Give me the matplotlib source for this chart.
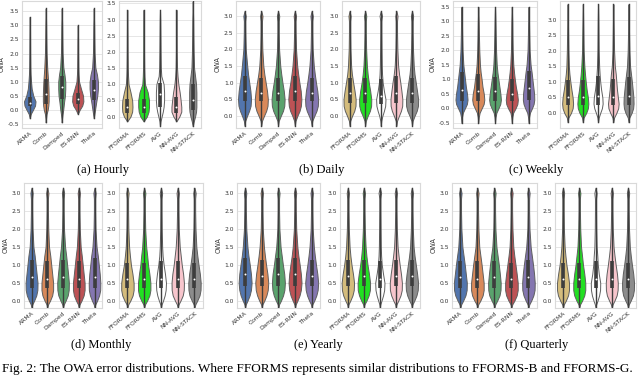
import numpy as np
import matplotlib.pyplot as plt

plt.rcParams['font.family'] = ['DejaVu Sans']

# method names and colours
LEFT_NAMES = ['ARMA', 'Comb', 'Damped', 'ES-RNN', 'Theta']
RIGHT_NAMES = ['FFORMA', 'FFORMS', 'AVG', 'NN-AVG', 'NN-STACK']
LEFT_COLORS = ['#5275ad', '#d8895a', '#5aa36d', '#bd5255', '#8476b0']
RIGHT_COLORS = ['#d4bc7c', '#22e022', '#ffffff', '#f7c5cc', '#8c8c8c']

# violin outlines: half-width (in category units) read at each OWA level of the grid
GRID_A = [-0.45, -0.3, -0.15, 0.0, 0.15, 0.3, 0.5, 0.75, 1.0, 1.25, 1.5, 2.0, 2.5, 3.0, 3.3, 3.6]
GRID_B = [-0.3, -0.15, 0.0, 0.15, 0.3, 0.5, 0.75, 1.0, 1.25, 1.5, 2.0, 2.5, 2.85, 2.95, 3.0, 3.05, 3.15]
GRID_C = [-0.5, -0.3, -0.15, 0.0, 0.15, 0.3, 0.5, 0.75, 1.0, 1.25, 1.5, 2.0, 2.5, 3.0, 3.3, 3.5]
GRID_D = [-0.2, -0.1, 0.0, 0.15, 0.3, 0.5, 0.75, 1.0, 1.25, 1.5, 2.0, 2.5, 2.85, 2.95, 3.0, 3.05, 3.15]

# Hourly
hourly_left = [
    [0, 0, 0.06, 0.2, 0.33, 0.36, 0.22, 0.12, 0.08, 0.05, 0.035, 0.025, 0.02, 0.015, 0, 0],
    [0, 0.02, 0.05, 0.12, 0.16, 0.18, 0.18, 0.17, 0.15, 0.12, 0.09, 0.05, 0.035, 0.025, 0.015, 0],
    [0, 0.02, 0.05, 0.09, 0.12, 0.15, 0.2, 0.22, 0.22, 0.17, 0.1, 0.05, 0.035, 0.025, 0.012, 0],
    [0, 0, 0, 0.12, 0.28, 0.35, 0.33, 0.2, 0.08, 0.05, 0.035, 0.025, 0.02, 0, 0, 0],
    [0, 0, 0.04, 0.08, 0.12, 0.16, 0.22, 0.26, 0.26, 0.2, 0.1, 0.05, 0.035, 0.025, 0.012, 0],
]
hourly_left_box = [(0.15, 0.25, 0.45), (0.2, 0.55, 1.1), (0.4, 0.8, 1.2), (0.2, 0.38, 0.6), (0.35, 0.7, 1.05)]
hourly_right = [
    [0, 0, 0, 0.2, 0.3, 0.32, 0.3, 0.2, 0.08, 0.05, 0.035, 0.025, 0.02, 0.01, 0, 0],
    [0, 0, 0, 0.2, 0.3, 0.33, 0.33, 0.25, 0.08, 0.05, 0.035, 0.025, 0.02, 0.01, 0, 0],
    [0, 0, 0.03, 0.1, 0.17, 0.22, 0.25, 0.25, 0.22, 0.08, 0.05, 0.035, 0.025, 0.015, 0, 0],
    [0, 0, 0, 0.18, 0.3, 0.3, 0.26, 0.2, 0.12, 0.07, 0.04, 0.025, 0.02, 0.01, 0, 0],
    [0, 0, 0.06, 0.14, 0.2, 0.22, 0.22, 0.22, 0.2, 0.14, 0.08, 0.05, 0.035, 0.025, 0.01, 0],
]
hourly_right_box = [(0.1, 0.3, 0.55), (0.12, 0.3, 0.55), (0.3, 0.7, 1.05), (0.12, 0.3, 0.6), (0.2, 0.5, 1.0)]

# Daily
daily_left = [
    [0, 0.04, 0.15, 0.27, 0.36, 0.39, 0.35, 0.28, 0.21, 0.16, 0.07, 0.045, 0.04, 0.06, 0.07, 0.05, 0],
    [0, 0.04, 0.16, 0.29, 0.37, 0.39, 0.34, 0.26, 0.18, 0.12, 0.06, 0.04, 0.04, 0.06, 0.07, 0.05, 0],
    [0, 0.04, 0.16, 0.29, 0.37, 0.39, 0.34, 0.26, 0.19, 0.13, 0.06, 0.04, 0.04, 0.06, 0.07, 0.05, 0],
    [0, 0.04, 0.15, 0.28, 0.36, 0.39, 0.35, 0.27, 0.2, 0.14, 0.07, 0.045, 0.04, 0.06, 0.07, 0.05, 0],
    [0, 0.04, 0.16, 0.29, 0.37, 0.39, 0.34, 0.26, 0.19, 0.13, 0.06, 0.04, 0.04, 0.06, 0.07, 0.05, 0],
]
daily_left_box = [(0.45, 0.75, 1.2), (0.45, 0.7, 1.15), (0.45, 0.7, 1.15), (0.45, 0.75, 1.2), (0.45, 0.7, 1.15)]
daily_right = [
    [0, 0.04, 0.16, 0.3, 0.38, 0.39, 0.32, 0.23, 0.15, 0.1, 0.055, 0.04, 0.04, 0.06, 0.07, 0.05, 0],
    [0, 0.04, 0.16, 0.3, 0.38, 0.39, 0.32, 0.23, 0.16, 0.11, 0.06, 0.04, 0.04, 0.06, 0.07, 0.05, 0],
    [0, 0.03, 0.1, 0.2, 0.28, 0.3, 0.2, 0.12, 0.08, 0.06, 0.045, 0.035, 0.035, 0.06, 0.08, 0.06, 0],
    [0, 0.04, 0.16, 0.29, 0.37, 0.38, 0.32, 0.25, 0.17, 0.11, 0.06, 0.04, 0.04, 0.06, 0.07, 0.05, 0],
    [0, 0.04, 0.16, 0.3, 0.38, 0.39, 0.32, 0.24, 0.16, 0.11, 0.06, 0.04, 0.04, 0.06, 0.07, 0.05, 0],
]
daily_right_box = [(0.4, 0.7, 1.15), (0.4, 0.7, 1.15), (0.35, 0.6, 1.1), (0.4, 0.7, 1.2), (0.4, 0.7, 1.15)]

# Weekly
weekly_left = [
    [0, 0.03, 0.08, 0.2, 0.32, 0.36, 0.33, 0.26, 0.21, 0.16, 0.11, 0.06, 0.04, 0.025, 0.012, 0],
    [0, 0.03, 0.08, 0.2, 0.32, 0.36, 0.33, 0.25, 0.2, 0.14, 0.1, 0.06, 0.04, 0.025, 0.012, 0],
    [0, 0.03, 0.08, 0.2, 0.31, 0.35, 0.32, 0.26, 0.2, 0.14, 0.1, 0.06, 0.04, 0.025, 0.012, 0],
    [0, 0.03, 0.08, 0.22, 0.33, 0.36, 0.32, 0.24, 0.18, 0.13, 0.09, 0.05, 0.035, 0.025, 0.012, 0],
    [0, 0.03, 0.08, 0.2, 0.3, 0.34, 0.33, 0.28, 0.23, 0.18, 0.12, 0.06, 0.04, 0.025, 0.012, 0],
]
weekly_left_box = [(0.25, 0.65, 1.25), (0.25, 0.6, 1.2), (0.25, 0.6, 1.1), (0.25, 0.5, 1.0), (0.3, 0.7, 1.3)]
weekly_right = [
    [0, 0, 0.05, 0.22, 0.33, 0.36, 0.33, 0.25, 0.18, 0.12, 0.08, 0.05, 0.035, 0.02, 0.01, 0],
    [0, 0, 0.05, 0.22, 0.33, 0.36, 0.33, 0.25, 0.19, 0.14, 0.1, 0.05, 0.035, 0.02, 0.01, 0],
    [0, 0, 0.04, 0.14, 0.25, 0.3, 0.28, 0.2, 0.14, 0.1, 0.07, 0.04, 0.03, 0.02, 0.01, 0],
    [0, 0, 0.05, 0.2, 0.32, 0.35, 0.3, 0.24, 0.2, 0.16, 0.1, 0.05, 0.035, 0.02, 0.01, 0],
    [0, 0, 0.05, 0.2, 0.3, 0.33, 0.32, 0.27, 0.22, 0.16, 0.1, 0.055, 0.035, 0.02, 0.01, 0],
]
weekly_right_box = [(0.25, 0.5, 1.05), (0.25, 0.5, 1.05), (0.25, 0.55, 1.2), (0.25, 0.5, 1.1), (0.25, 0.55, 1.15)]

# Monthly
monthly_left = [
    [0, 0.05, 0.16, 0.3, 0.37, 0.38, 0.32, 0.26, 0.2, 0.12, 0.06, 0.04, 0.04, 0.06, 0.07, 0.05, 0],
    [0, 0.05, 0.17, 0.31, 0.37, 0.37, 0.31, 0.25, 0.19, 0.11, 0.06, 0.04, 0.04, 0.06, 0.07, 0.05, 0],
    [0, 0.05, 0.16, 0.3, 0.36, 0.37, 0.32, 0.26, 0.2, 0.13, 0.06, 0.04, 0.04, 0.06, 0.07, 0.05, 0],
    [0, 0.05, 0.17, 0.31, 0.37, 0.37, 0.31, 0.25, 0.19, 0.12, 0.06, 0.04, 0.04, 0.06, 0.07, 0.05, 0],
    [0, 0.05, 0.16, 0.29, 0.36, 0.37, 0.33, 0.27, 0.21, 0.13, 0.06, 0.04, 0.04, 0.06, 0.07, 0.05, 0],
]
monthly_left_box = [(0.35, 0.65, 1.15), (0.35, 0.6, 1.1), (0.35, 0.65, 1.15), (0.35, 0.6, 1.1), (0.35, 0.65, 1.2)]
monthly_right = [
    [0, 0.05, 0.17, 0.31, 0.37, 0.37, 0.3, 0.21, 0.15, 0.1, 0.055, 0.04, 0.04, 0.06, 0.07, 0.05, 0],
    [0, 0.05, 0.17, 0.31, 0.37, 0.37, 0.31, 0.23, 0.18, 0.12, 0.06, 0.04, 0.04, 0.06, 0.07, 0.05, 0],
    [0, 0.04, 0.12, 0.22, 0.28, 0.3, 0.24, 0.16, 0.1, 0.07, 0.045, 0.035, 0.035, 0.06, 0.07, 0.05, 0],
    [0, 0.05, 0.16, 0.3, 0.36, 0.37, 0.32, 0.24, 0.18, 0.12, 0.06, 0.04, 0.04, 0.06, 0.07, 0.05, 0],
    [0, 0.05, 0.16, 0.3, 0.36, 0.37, 0.32, 0.24, 0.17, 0.11, 0.06, 0.04, 0.04, 0.06, 0.07, 0.05, 0],
]
monthly_right_box = [(0.35, 0.6, 1.05), (0.35, 0.6, 1.05), (0.35, 0.6, 1.1), (0.35, 0.6, 1.1), (0.35, 0.6, 1.05)]

# Yearly
yearly_left = [
    [0, 0.04, 0.14, 0.27, 0.35, 0.39, 0.35, 0.28, 0.2, 0.14, 0.07, 0.045, 0.04, 0.06, 0.07, 0.05, 0],
    [0, 0.04, 0.15, 0.28, 0.36, 0.39, 0.34, 0.26, 0.19, 0.13, 0.06, 0.04, 0.04, 0.06, 0.07, 0.05, 0],
    [0, 0.04, 0.15, 0.28, 0.36, 0.39, 0.35, 0.27, 0.2, 0.13, 0.06, 0.04, 0.04, 0.06, 0.07, 0.05, 0],
    [0, 0.04, 0.14, 0.27, 0.35, 0.39, 0.35, 0.28, 0.2, 0.14, 0.07, 0.045, 0.04, 0.06, 0.07, 0.05, 0],
    [0, 0.04, 0.15, 0.28, 0.36, 0.39, 0.34, 0.26, 0.19, 0.13, 0.06, 0.04, 0.04, 0.06, 0.07, 0.05, 0],
]
yearly_left_box = [(0.4, 0.75, 1.2), (0.4, 0.7, 1.15), (0.4, 0.75, 1.2), (0.4, 0.75, 1.2), (0.4, 0.7, 1.15)]
yearly_right = [
    [0, 0.04, 0.15, 0.29, 0.37, 0.39, 0.32, 0.23, 0.16, 0.11, 0.06, 0.04, 0.04, 0.06, 0.07, 0.05, 0],
    [0, 0.04, 0.16, 0.3, 0.38, 0.39, 0.32, 0.23, 0.16, 0.11, 0.06, 0.04, 0.04, 0.06, 0.07, 0.05, 0],
    [0, 0.03, 0.1, 0.2, 0.27, 0.29, 0.2, 0.12, 0.08, 0.06, 0.045, 0.035, 0.035, 0.06, 0.08, 0.06, 0],
    [0, 0.04, 0.15, 0.29, 0.37, 0.38, 0.32, 0.24, 0.17, 0.11, 0.06, 0.04, 0.04, 0.06, 0.07, 0.05, 0],
    [0, 0.04, 0.15, 0.29, 0.37, 0.39, 0.33, 0.25, 0.17, 0.11, 0.06, 0.04, 0.04, 0.06, 0.07, 0.05, 0],
]
yearly_right_box = [(0.4, 0.7, 1.15), (0.4, 0.7, 1.15), (0.35, 0.6, 1.1), (0.4, 0.7, 1.15), (0.4, 0.7, 1.15)]

# Quarterly
quarterly_left = [
    [0, 0.05, 0.16, 0.3, 0.37, 0.38, 0.32, 0.26, 0.19, 0.12, 0.06, 0.04, 0.04, 0.06, 0.07, 0.05, 0],
    [0, 0.05, 0.17, 0.31, 0.37, 0.37, 0.31, 0.25, 0.18, 0.11, 0.06, 0.04, 0.04, 0.06, 0.07, 0.05, 0],
    [0, 0.05, 0.16, 0.3, 0.36, 0.37, 0.32, 0.26, 0.19, 0.12, 0.06, 0.04, 0.04, 0.06, 0.07, 0.05, 0],
    [0, 0.05, 0.17, 0.31, 0.37, 0.37, 0.31, 0.24, 0.17, 0.11, 0.06, 0.04, 0.04, 0.06, 0.07, 0.05, 0],
    [0, 0.05, 0.16, 0.29, 0.36, 0.37, 0.33, 0.27, 0.2, 0.13, 0.06, 0.04, 0.04, 0.06, 0.07, 0.05, 0],
]
quarterly_left_box = [(0.35, 0.65, 1.1), (0.35, 0.6, 1.1), (0.35, 0.65, 1.1), (0.35, 0.6, 1.05), (0.35, 0.65, 1.15)]
quarterly_right = [
    [0, 0.05, 0.17, 0.31, 0.37, 0.37, 0.3, 0.21, 0.15, 0.1, 0.055, 0.04, 0.04, 0.06, 0.07, 0.05, 0],
    [0, 0.05, 0.17, 0.31, 0.37, 0.37, 0.31, 0.23, 0.17, 0.11, 0.06, 0.04, 0.04, 0.06, 0.07, 0.05, 0],
    [0, 0.04, 0.12, 0.22, 0.28, 0.29, 0.2, 0.14, 0.11, 0.07, 0.045, 0.035, 0.035, 0.06, 0.07, 0.05, 0],
    [0, 0.05, 0.16, 0.3, 0.36, 0.37, 0.32, 0.24, 0.17, 0.11, 0.06, 0.04, 0.04, 0.06, 0.07, 0.05, 0],
    [0, 0.05, 0.16, 0.3, 0.36, 0.37, 0.32, 0.24, 0.17, 0.11, 0.06, 0.04, 0.04, 0.06, 0.07, 0.05, 0],
]
quarterly_right_box = [(0.35, 0.6, 1.05), (0.35, 0.6, 1.05), (0.35, 0.6, 1.1), (0.35, 0.6, 1.1), (0.35, 0.6, 1.05)]

CAPTIONS = ['(a) Hourly', '(b) Daily', '(c) Weekly', '(d) Monthly', '(e) Yearly', '(f) Quarterly']
FIG_CAPTION = ('Fig. 2: The OWA error distributions. Where FFORMS represents similar '
               'distributions to FFORMS-B and FFORMS-G.')


def violins(ax, grid, widths, boxes, colors, names, ylim, yticks, ylabel=None):
    g = np.array(grid)
    for i, (w, b, c) in enumerate(zip(widths, boxes, colors)):
        w = np.array(w, dtype=float)
        nz = np.nonzero(w)[0]
        lo, hi = max(nz[0] - 1, 0), min(nz[-1] + 1, len(g) - 1)
        ys, ws = g[lo:hi + 1], w[lo:hi + 1]
        ax.fill_betweenx(ys, i - ws, i + ws, facecolor=c, edgecolor='#5f5f5f', lw=0.7, zorder=2)
        ax.plot([i, i], [ys[0], ys[-1]], color='#3d3d3d', lw=1.0, zorder=3)
        ax.plot([i, i], [b[0], b[2]], color='#3d3d3d', lw=2.6, solid_capstyle='butt', zorder=3)
        ax.plot(i, b[1], 'o', ms=1.4, mfc='white', mec='none', zorder=4)
    ax.set_xlim(-0.5, len(names) - 0.5)
    ax.set_ylim(*ylim)
    ax.set_yticks(yticks)
    ax.set_yticklabels(['%.1f' % t for t in yticks])
    ax.set_xticks(range(len(names)))
    ax.set_xticklabels(names, rotation=40, ha='right', rotation_mode='anchor')
    ax.tick_params(length=0, labelsize=4.3, labelcolor='#333333', pad=2)
    ax.grid(axis='y', color='#e6e6e6', lw=0.7, zorder=0)
    ax.set_axisbelow(True)
    for s in ax.spines.values():
        s.set_color('#d9d9d9')
        s.set_linewidth(0.8)
    if ylabel:
        ax.set_ylabel(ylabel, fontsize=4.8, color='#333333', labelpad=2)


fig = plt.figure(figsize=(6.4, 3.76), dpi=100)

TOP_B, TOP_H = 0.660, 0.337
BOT_B, BOT_H = 0.181, 0.332
yt_full = [-0.5, 0.0, 0.5, 1.0, 1.5, 2.0, 2.5, 3.0, 3.5]
yt_pos = [0.0, 0.5, 1.0, 1.5, 2.0, 2.5, 3.0, 3.5]
yt_3 = [0.0, 0.5, 1.0, 1.5, 2.0, 2.5, 3.0]

# top row
ax = fig.add_axes([0.034, TOP_B, 0.125, TOP_H])
violins(ax, GRID_A, hourly_left, hourly_left_box, LEFT_COLORS, LEFT_NAMES, (-0.64, 3.86), yt_full, 'OWA')
ax = fig.add_axes([0.186, TOP_B, 0.128, TOP_H])
violins(ax, GRID_A, hourly_right, hourly_right_box, RIGHT_COLORS, RIGHT_NAMES, (-0.35, 3.57), yt_pos)
ax = fig.add_axes([0.369, TOP_B, 0.131, TOP_H])
violins(ax, GRID_B, daily_left, daily_left_box, LEFT_COLORS, LEFT_NAMES, (-0.36, 3.45), yt_3, 'OWA')
ax = fig.add_axes([0.534, TOP_B, 0.122, TOP_H])
violins(ax, GRID_B, daily_right, daily_right_box, RIGHT_COLORS, RIGHT_NAMES, (-0.36, 3.45), yt_3)
ax = fig.add_axes([0.708, TOP_B, 0.131, TOP_H])
violins(ax, GRID_C, weekly_left, weekly_left_box, LEFT_COLORS, LEFT_NAMES, (-0.67, 3.7), yt_full, 'OWA')
ax = fig.add_axes([0.875, TOP_B, 0.119, TOP_H])
violins(ax, GRID_C, weekly_right, weekly_right_box, RIGHT_COLORS, RIGHT_NAMES, (-0.48, 3.6), yt_3)

# bottom row
ax = fig.add_axes([0.037, BOT_B, 0.123, BOT_H])
violins(ax, GRID_D, monthly_left, monthly_left_box, LEFT_COLORS, LEFT_NAMES, (-0.2, 3.28), yt_3, 'OWA')
ax = fig.add_axes([0.186, BOT_B, 0.131, BOT_H])
violins(ax, GRID_D, monthly_right, monthly_right_box, RIGHT_COLORS, RIGHT_NAMES, (-0.2, 3.28), yt_3)
ax = fig.add_axes([0.370, BOT_B, 0.130, BOT_H])
violins(ax, GRID_D, yearly_left, yearly_left_box, LEFT_COLORS, LEFT_NAMES, (-0.2, 3.28), yt_3, 'OWA')
ax = fig.add_axes([0.531, BOT_B, 0.125, BOT_H])
violins(ax, GRID_D, yearly_right, yearly_right_box, RIGHT_COLORS, RIGHT_NAMES, (-0.2, 3.28), yt_3)
ax = fig.add_axes([0.706, BOT_B, 0.133, BOT_H])
violins(ax, GRID_D, quarterly_left, quarterly_left_box, LEFT_COLORS, LEFT_NAMES, (-0.2, 3.28), yt_3, 'OWA')
ax = fig.add_axes([0.867, BOT_B, 0.127, BOT_H])
violins(ax, GRID_D, quarterly_right, quarterly_right_box, RIGHT_COLORS, RIGHT_NAMES, (-0.2, 3.28), yt_3)

serif = ['Liberation Serif', 'DejaVu Serif']
cap_x = [0.161, 0.502, 0.838, 0.158, 0.497, 0.838]
cap_y = [0.548, 0.548, 0.548, 0.083, 0.083, 0.083]
for t, x, y in zip(CAPTIONS, cap_x, cap_y):
    fig.text(x, y, t, ha='center', va='center', fontsize=9, family=serif)
fig.text(0.003, 0.019, FIG_CAPTION, ha='left', va='center', fontsize=9.5, family=serif)

fig.savefig('out.png', dpi=100)
